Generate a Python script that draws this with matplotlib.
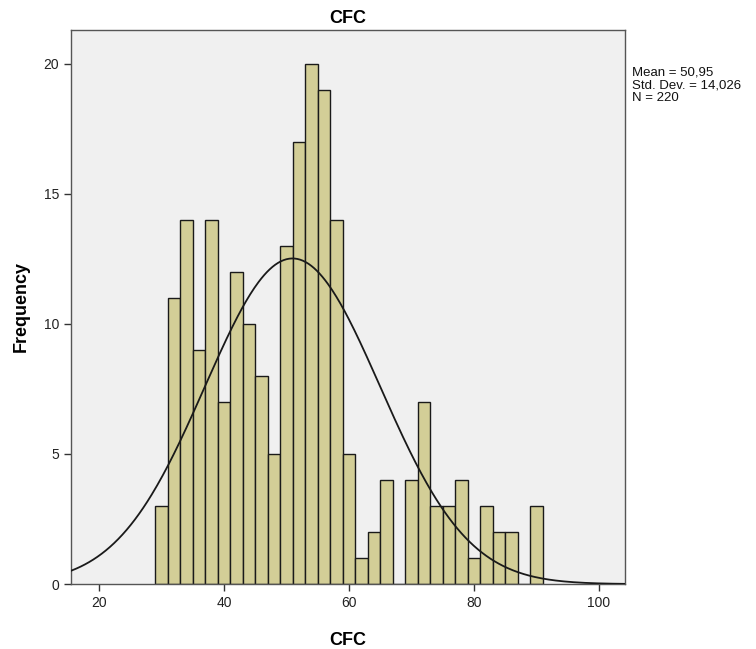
import matplotlib
matplotlib.use("Agg")
import matplotlib.pyplot as plt
import numpy as np

plt.rcParams["font.family"] = ["Liberation Sans", "DejaVu Sans"]

# histogram of CFC: bin centres (width 2) and counts
bin_centers = [30, 32, 34, 36, 38, 40, 42, 44, 46, 48, 50, 52, 54, 56, 58, 60,
               62, 64, 66, 68, 70, 72, 74, 76, 78, 80, 82, 84, 86, 88, 90]
counts = [3, 11, 14, 9, 14, 7, 12, 10, 8, 5, 13, 17, 20, 19, 14, 5,
          1, 2, 4, 0, 4, 7, 3, 3, 4, 1, 3, 2, 2, 0, 3]
bin_width = 2.0
mean = 50.95
std = 14.026
n = 220
x_ticks = [20, 40, 60, 80, 100]
y_ticks = [0, 5, 10, 15, 20]

fig = plt.figure(figsize=(7.56, 6.49), dpi=100)
ax = fig.add_axes([0.094, 0.100, 0.733, 0.854])
ax.set_facecolor("#f0f0f0")

ax.bar(bin_centers, counts, width=bin_width, color="#d3ce97",
       edgecolor="#1a1a1a", linewidth=1.0, zorder=2)

# fitted normal curve scaled to counts
xs = np.linspace(15.5, 104.2, 400)
pdf = n * bin_width / (std * np.sqrt(2 * np.pi)) * np.exp(-0.5 * ((xs - mean) / std) ** 2)
ax.plot(xs, pdf, color="#1a1a1a", linewidth=1.3, zorder=3)

ax.set_xlim(15.5, 104.2)
ax.set_ylim(0, 21.3)
ax.set_xticks(x_ticks)
ax.set_yticks(y_ticks)
ax.tick_params(axis="both", labelsize=10, length=5, width=1, color="#333333",
               labelcolor="#222222")
for spine in ax.spines.values():
    spine.set_color("#555555")
    spine.set_linewidth(1.0)

ax.set_title("CFC", fontsize=13, fontweight="bold", pad=5)
ax.set_xlabel("CFC", fontsize=13, fontweight="bold", labelpad=16)
ax.set_ylabel("Frequency", fontsize=13, fontweight="bold", labelpad=10)

fig.text(0.836, 0.897, f"Mean = 50,95\nStd. Dev. = 14,026\nN = {n}",
         fontsize=9.5, va="top", ha="left", linespacing=1.05, color="#111111")

fig.savefig("out.png", dpi=100)
